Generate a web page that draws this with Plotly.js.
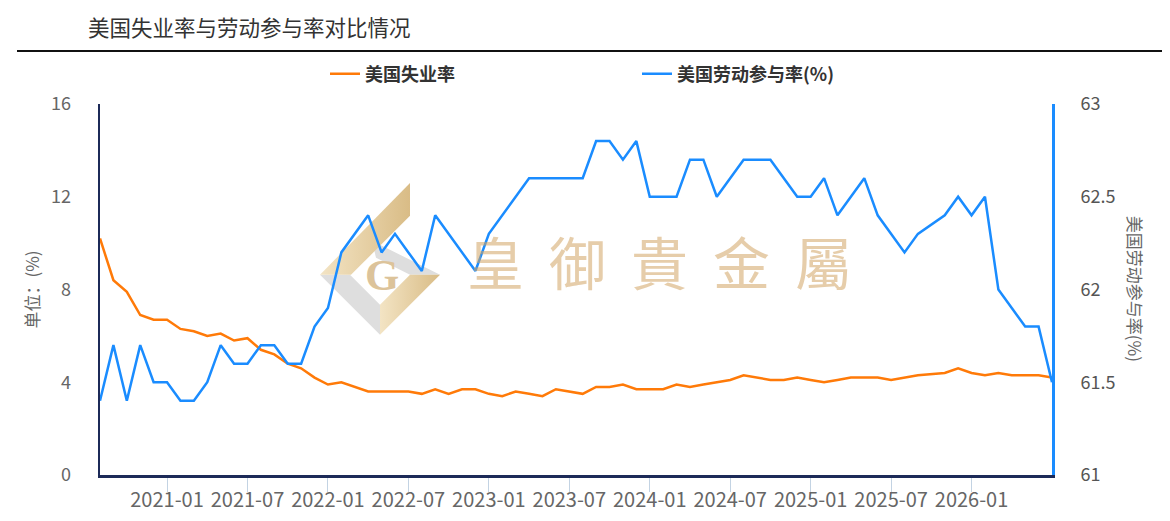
<!DOCTYPE html>
<html>
<head>
<meta charset="utf-8">
<script src="https://cdn.plot.ly/plotly-3.0.1.min.js"></script>
<style>
html,body{margin:0;padding:0;background:#fff;}
#chart{width:1170px;height:521px;}
</style>
</head>
<body>
<div id="chart"></div>
<script>
const months = [
 "2020-08","2020-09","2020-10","2020-11","2020-12",
 "2021-01","2021-02","2021-03","2021-04","2021-05","2021-06","2021-07","2021-08","2021-09","2021-10","2021-11","2021-12",
 "2022-01","2022-02","2022-03","2022-04","2022-05","2022-06","2022-07","2022-08","2022-09","2022-10","2022-11","2022-12",
 "2023-01","2023-02","2023-03","2023-04","2023-05","2023-06","2023-07","2023-08","2023-09","2023-10","2023-11","2023-12",
 "2024-01","2024-02","2024-03","2024-04","2024-05","2024-06","2024-07","2024-08","2024-09","2024-10","2024-11","2024-12",
 "2025-01","2025-02","2025-03","2025-04","2025-05","2025-06","2025-07","2025-08","2025-09","2025-10","2025-11","2025-12",
 "2026-01","2026-02","2026-03","2026-04","2026-05","2026-06","2026-07"
];

const unemploymentRate = [
 10.2, 8.4, 7.9, 6.9, 6.7, 6.7, 6.3, 6.2, 6.0, 6.1, 5.8, 5.9, 5.4, 5.2, 4.8, 4.6, 4.2, 3.9, 4.0, 3.8,
 3.6, 3.6, 3.6, 3.6, 3.5, 3.7, 3.5, 3.7, 3.7, 3.5, 3.4, 3.6, 3.5, 3.4, 3.7, 3.6, 3.5, 3.8, 3.8, 3.9, 3.7, 3.7, 3.7, 3.9, 3.8, 3.9, 4.0,
 4.1, 4.3, 4.2, 4.1, 4.1, 4.2, 4.1, 4.0, 4.1, 4.2, 4.2, 4.2, 4.1, 4.2, 4.3, null, 4.4, 4.6, 4.4, 4.3, 4.4, 4.3, 4.3, 4.3, 4.2
];

const participationRate = [
 61.4, 61.7, 61.4, 61.7, 61.5, 61.5, 61.4, 61.4, 61.5, 61.7, 61.6, 61.6, 61.7, 61.7, 61.6, 61.6, 61.8, 61.9, 62.2, 62.3,
 62.4, 62.2, 62.3, 62.2, 62.1, 62.4, 62.3, 62.2, 62.1, 62.3, 62.4, 62.5, 62.6, 62.6, 62.6, 62.6, 62.6, 62.8, 62.8, 62.7, 62.8, 62.5, 62.5, 62.5, 62.7, 62.7, 62.5,
 62.6, 62.7, 62.7, 62.7, 62.6, 62.5, 62.5, 62.6, 62.4, 62.5, 62.6, 62.4, 62.3, 62.2, 62.3, null, 62.4, 62.5, 62.4, 62.5, 62.0, 61.9, 61.8, 61.8, 61.5
];

const xTickLabels = ["2021-01","2021-07","2022-01","2022-07","2023-01","2023-07","2024-01","2024-07","2025-01","2025-07","2026-01"];
const leftTicks = [0, 4, 8, 12, 16];
const rightTicks = [61, 61.5, 62, 62.5, 63];
const seriesNames = ["美国失业率", "美国劳动参与率(%)"];
const watermarkChars = ["皇", "御", "貴", "金", "屬"];

const CJK = '"Noto Sans CJK SC", "Noto Sans", sans-serif';
const PL = 100, PR = 1052, PT = 104, PB = 475.5;
const PW = PR - PL, PH = PB - PT;
const px = x => (x - PL) / PW;
const py = y => (PB - y) / PH;

const traces = [
 {x: months, y: unemploymentRate, name: seriesNames[0], type: 'scatter', mode: 'lines',
  line: {color: '#ff7a08', width: 2.5}, connectgaps: true, yaxis: 'y'},
 {x: months, y: participationRate, name: seriesNames[1], type: 'scatter', mode: 'lines',
  line: {color: '#1a8cff', width: 2.5}, connectgaps: true, yaxis: 'y2'}
];

const logoSvg = '<svg xmlns="http://www.w3.org/2000/svg" width="130" height="160" viewBox="315 180 130 160">' +
 '<defs><linearGradient id="t" x1="0" y1="0" x2="1" y2="0"><stop offset="0" stop-color="#f3e4c4"/><stop offset="1" stop-color="#d9bc86"/></linearGradient></defs>' +
 '<polygon points="320,275 380,335 380,305 350,275" fill="#dedede"/>' +
 '<polygon points="372,241 440,275 410,275 376,258" fill="#dedede"/>' +
 '<polygon points="440,275 380,335 380,305 410,275" fill="url(#t)"/>' +
 '<polygon points="320,275 410,183 410,216 351,275" fill="url(#t)"/>' +
 '</svg>';

const annotations = watermarkChars.map((c, i) => ({
 text: c, xref: 'paper', yref: 'paper', x: px(495 + i * 82.2), y: py(260),
 xanchor: 'center', yanchor: 'middle', showarrow: false,
 font: {family: '"Noto Sans CJK TC", ' + CJK, size: 57, color: 'rgba(210,164,100,0.55)'}
}));
annotations.push({
 text: 'G', xref: 'paper', yref: 'paper', x: px(382), y: py(276), xanchor: 'center', yanchor: 'middle',
 showarrow: false, font: {family: '"Liberation Serif", "DejaVu Serif", serif', size: 44, color: '#dcc39a', weight: 'bold'}
});
annotations.push({
 text: '美国劳动参与率(%)', xref: 'paper', yref: 'paper', x: px(1135), y: py(289),
 xanchor: 'center', yanchor: 'middle', showarrow: false, textangle: 90,
 font: {family: CJK, size: 17, color: '#666'}
});

const layout = {
 width: 1170, height: 521,
 margin: {l: PL, r: 1170 - PR, t: PT, b: 521 - PB},
 paper_bgcolor: '#fff', plot_bgcolor: '#fff',
 font: {family: CJK, color: '#666'},
 title: {text: '美国失业率与劳动参与率对比情况', x: 88 / 1170, xref: 'container', xanchor: 'left',
  y: 1 - 28 / 521, yref: 'container', yanchor: 'middle',
  font: {family: CJK, size: 21.5, color: '#333'}},
 showlegend: true,
 legend: {orientation: 'h', x: px(325), xanchor: 'left', y: py(74), yanchor: 'middle',
  entrywidth: 267, entrywidthmode: 'pixels',
  font: {family: CJK, size: 18, color: '#333', weight: 'bold'}, bgcolor: 'rgba(0,0,0,0)'},
 xaxis: {type: 'category', range: [0, months.length - 1], tickmode: 'array', tickvals: xTickLabels, ticktext: xTickLabels,
  showgrid: false, zeroline: false, showline: true, linecolor: '#1c2a58', linewidth: 2.5,
  ticks: 'outside', ticklen: 14, tickwidth: 1, tickcolor: '#c3d3e3', ticklabelstandoff: -9,
  tickfont: {family: CJK, size: 20, color: '#666'}, fixedrange: true},
 yaxis: {range: [0, 16], tickmode: 'array', tickvals: leftTicks, showgrid: false, zeroline: false,
  showline: true, linecolor: '#1c2a58', linewidth: 2.5, ticks: '', ticklabelstandoff: 23,
  tickfont: {family: CJK, size: 18, color: '#666'},
  title: {text: '单位：(%)', font: {family: CJK, size: 17, color: '#666'}, standoff: 7}, fixedrange: true},
 yaxis2: {range: [61, 63], overlaying: 'y', side: 'right', tickmode: 'array', tickvals: rightTicks,
  showgrid: false, zeroline: false, showline: true, linecolor: '#1a8cff', linewidth: 3, ticks: '',
  ticklabelstandoff: 22, tickfont: {family: CJK, size: 18, color: '#555'}, fixedrange: true},
 shapes: [{type: 'line', xref: 'paper', yref: 'paper', x0: px(17), x1: px(1162), y0: py(51), y1: py(51),
  line: {color: '#111', width: 2}}],
 images: [{source: 'data:image/svg+xml;charset=utf-8,' + encodeURIComponent(logoSvg),
  xref: 'paper', yref: 'paper', x: px(315), y: py(180), sizex: 130 / PW, sizey: 160 / PH,
  xanchor: 'left', yanchor: 'top', sizing: 'stretch', layer: 'below'}],
 annotations: annotations
};

Plotly.newPlot('chart', traces, layout, {displayModeBar: false, staticPlot: true});
</script>
</body>
</html>
